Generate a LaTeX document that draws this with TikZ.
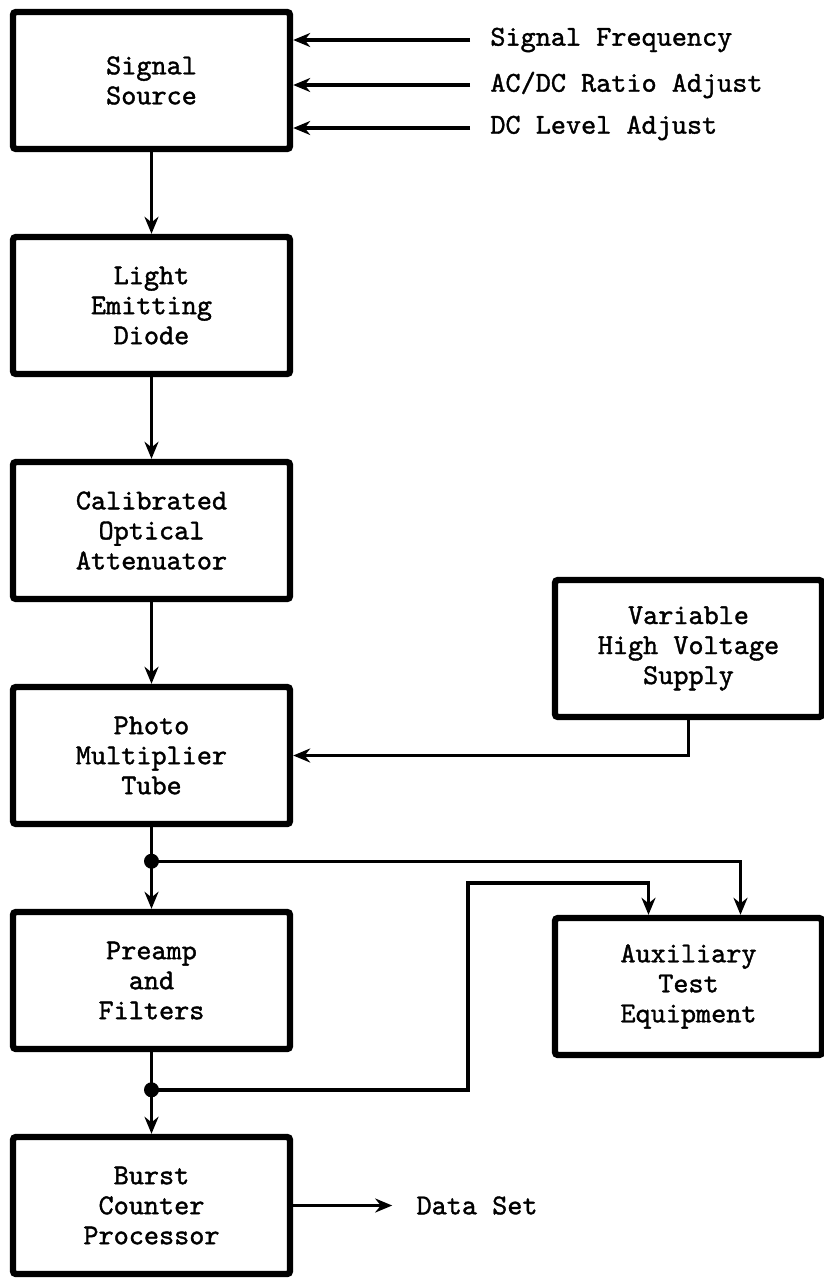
\documentclass[tikz,border=0pt]{standalone}
\usepackage{fontspec}
\newfontfamily\boxfont[FakeBold=1.3]{lmmono10-regular.otf}
\usetikzlibrary{positioning,arrows.meta}

\tikzset{
  blk/.style={draw, line width=3.2pt, rounded corners=1.5pt, minimum width=138.5pt,
    minimum height=68.5pt, align=center, font=\boxfont\fontsize{14.4}{15}\selectfont},
  lbl/.style={inner sep=0pt, font=\boxfont\fontsize{14.4}{15}\selectfont},
  conn/.style={line width=1.7pt, -{Stealth[length=8.5pt,width=7pt]}},
  jn/.style={circle, fill, inner sep=0pt, minimum size=7.5pt},
}

\begin{document}
\begin{tikzpicture}[x=0.5pt, y=-0.5pt, node distance=40.8pt]
  \useasboundingbox (0,0) rectangle (824,1280);
  \node[blk] (src) at (151.5,80.5) {Signal\\Source};
  \node[blk, below=of src] (led) {Light\\Emitting\\Diode};
  \node[blk, below=of led] (att) {Calibrated\\ Optical\\Attenuator};
  \node[blk, below=of att] (pmt) {Photo\\Multiplier\\Tube};
  \node[blk, below=of pmt] (pre) {Preamp\\and\\Filters};
  \node[blk, below=of pre] (bcp) {Burst\\Counter\\Processor};
  \node[blk, minimum width=133.5pt] (hv) at (688.5,648.5) {Variable\\High Voltage\\Supply};
  \node[blk, minimum width=133.5pt] (aux) at (688.5,986.5) {Auxiliary\\ Test\\Equipment};

  \node[lbl, anchor=west] (sf) at (490,40) {Signal Frequency};
  \node[lbl, anchor=west] (ac) at (490,85) {AC/DC Ratio Adjust};
  \node[lbl, anchor=west] (dc) at (490,128) {DC Level Adjust};
  \node[lbl, right=61.5pt of bcp] (ds) {Data Set};

  \coordinate (j1) at ([yshift=-17pt]pmt.south);
  \coordinate (j2) at ([yshift=22pt]bcp.north);
  \coordinate (bend) at (468,883);

  \foreach \l in {sf,ac,dc}
    \draw[conn] ([xshift=-10pt]\l.west) -- (\l.west -| src.east);
  \draw[conn] (src) -- (led);
  \draw[conn] (led) -- (att);
  \draw[conn] (att) -- (pmt);
  \draw[conn] (pmt) -- (pre);
  \draw[conn] (pre) -- (bcp);
  \draw[conn] (hv.south) |- (pmt.east);
  \draw[conn] (j1) -| ([xshift=26pt]aux.north);
  \draw[conn] (j2) -| (bend) -| ([xshift=-20pt]aux.north);
  \draw[conn] (bcp) -- ([xshift=-12pt]ds.west);
  \node[jn] at (j1) {};
  \node[jn] at (j2) {};
\end{tikzpicture}
\end{document}
